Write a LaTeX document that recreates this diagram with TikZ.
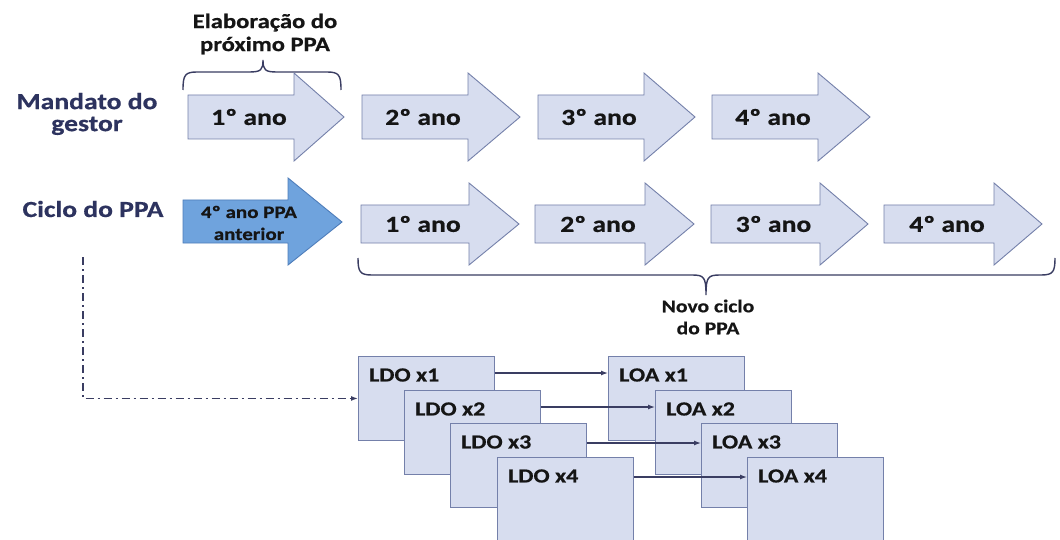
\documentclass[tikz,border=0pt]{standalone}
\usepackage{fontspec}
\setmainfont{Carlito}[FakeStretch=1.2,BoldFeatures={FakeBold=0.6}]
\usetikzlibrary{arrows.meta,calc}
\definecolor{lightfill}{HTML}{D7DDEF}
\definecolor{lightdraw}{HTML}{7480AA}
\definecolor{darkfill}{HTML}{6FA3DD}
\definecolor{darkdraw}{HTML}{4E7DBA}
\definecolor{navy}{HTML}{2D335F}
\definecolor{linecol}{HTML}{3A3D62}
\definecolor{txt}{HTML}{151515}
\newcommand{\blockarrow}[9]{%
  \draw[#1] (#2,#5-#6) -- (#3,#5-#6) -- (#3,#5-#7) -- (#4,#5) -- (#3,#5+#7) -- (#3,#5+#6) -- (#2,#5+#6) -- cycle;
  \node[arrowtext] (#8) at ({(#2+#3)/2+8},#5) {#9};}
\begin{document}
\begin{tikzpicture}[x=1pt,y=-1pt,
  lightarrow/.style={fill=lightfill,draw=lightdraw,line width=0.9pt,line join=miter},
  darkarrow/.style={fill=darkfill,draw=darkdraw,line width=0.9pt,line join=miter},
  arrowtext/.style={font=\fontsize{23}{26}\selectfont\bfseries,text=txt,inner sep=0pt},
  darktext/.style={font=\fontsize{17.5}{22}\selectfont\bfseries,text=txt,align=center,inner sep=0pt},
  rowlabel/.style={font=\fontsize{23}{22}\selectfont\bfseries,text=navy,align=center,inner sep=0pt},
  bracelabel/.style={font=\fontsize{18}{22}\selectfont\bfseries,text=txt,align=center,inner sep=0pt},
  elablabel/.style={font=\fontsize{20.5}{23}\selectfont\bfseries,text=txt,align=center,inner sep=0pt},
  bracestyle/.style={draw=linecol,line width=1.4pt},
  docbox/.style={fill=lightfill,draw=lightdraw,line width=0.9pt,minimum width=136pt,minimum height=84pt,inner sep=0pt,anchor=north west},
  boxlabel/.style={font=\fontsize{20}{22}\selectfont\bfseries,text=txt,inner sep=0pt,anchor=west},
  flow/.style={draw=linecol,line width=1.3pt,-{Latex[length=7pt,width=5pt]}},
  dashflow/.style={draw=linecol,line width=1.7pt,dash pattern=on 8pt off 4pt on 2pt off 4pt,-{Latex[length=7pt,width=5pt]}}]
\useasboundingbox[fill=white] (0,0) rectangle (1060,540);

% row labels
\node[rowlabel] (mandato) at (87,114) {Mandato do\\gestor};
\node[rowlabel] (ciclo) at (93,209) {Ciclo do PPA};

% brace top
\draw[bracestyle] (183,90) .. controls (183,75) and (185,72) .. (197,72) -- (249,72)
  .. controls (261,72) and (263,70) .. (263,60)
  .. controls (263,70) and (265,72) .. (277,72) -- (327,72)
  .. controls (339,72) and (341,75) .. (341,90);
\node[elablabel] (elab) at (265,34) {Elaboração do\\próximo PPA};

% row 1 arrows
\blockarrow{lightarrow}{188}{294}{344}{117}{22}{44}{m1}{1º ano}
\blockarrow{lightarrow}{362}{468}{520}{117}{22}{44}{m2}{2º ano}
\blockarrow{lightarrow}{538}{644}{695}{117}{22}{44}{m3}{3º ano}
\blockarrow{lightarrow}{712}{818}{870}{117}{22}{44}{m4}{4º ano}

% row 2 arrows
\draw[darkarrow] (183,200) -- (288,200) -- (288,178) -- (342,222) -- (288,265) -- (288,243) -- (183,243) -- cycle;
\node[darktext] (prev) at (249,223) {4º ano PPA\\anterior};
\blockarrow{lightarrow}{361}{469}{519}{224}{19}{41}{c1}{1º ano}
\blockarrow{lightarrow}{535}{645}{694}{224}{19}{41}{c2}{2º ano}
\blockarrow{lightarrow}{711}{820}{868}{224}{19}{41}{c3}{3º ano}
\blockarrow{lightarrow}{884}{994}{1042}{224}{19}{41}{c4}{4º ano}

% brace bottom
\draw[bracestyle] (358,258) .. controls (358,272) and (360,275) .. (372,275) -- (692,275)
  .. controls (704,275) and (706,277) .. (706,295)
  .. controls (706,277) and (708,275) .. (720,275) -- (1041,275)
  .. controls (1053,275) and (1055,272) .. (1055,258);
\node[bracelabel] (novo) at (708,317) {Novo ciclo\\do PPA};

% LDO boxes
\node[docbox] (ldo1) at (358,356) {};
\node[boxlabel] (ldo1t) at ([xshift=11pt,yshift=-19pt]ldo1.north west) {LDO x1};
\node[docbox] (ldo2) at (404,390) {};
\node[boxlabel] (ldo2t) at ([xshift=11pt,yshift=-19pt]ldo2.north west) {LDO x2};
\node[docbox] (ldo3) at (450,423) {};
\node[boxlabel] (ldo3t) at ([xshift=11pt,yshift=-19pt]ldo3.north west) {LDO x3};
\node[docbox] (ldo4) at (497,457) {};
\node[boxlabel] (ldo4t) at ([xshift=11pt,yshift=-19pt]ldo4.north west) {LDO x4};

% LOA boxes
\node[docbox] (loa1) at (608,356) {};
\node[boxlabel] (loa1t) at ([xshift=11pt,yshift=-19pt]loa1.north west) {LOA x1};
\node[docbox] (loa2) at (655,390) {};
\node[boxlabel] (loa2t) at ([xshift=11pt,yshift=-19pt]loa2.north west) {LOA x2};
\node[docbox] (loa3) at (701,423) {};
\node[boxlabel] (loa3t) at ([xshift=11pt,yshift=-19pt]loa3.north west) {LOA x3};
\node[docbox] (loa4) at (747,457) {};
\node[boxlabel] (loa4t) at ([xshift=11pt,yshift=-19pt]loa4.north west) {LOA x4};

% connectors
\draw[flow] ([yshift=-17pt]ldo1.north east) -- ([yshift=-17pt]loa1.north west);
\draw[flow] ([yshift=-17pt]ldo2.north east) -- ([yshift=-17pt]loa2.north west);
\draw[flow] ([yshift=-20pt]ldo3.north east) -- ([yshift=-20pt]loa3.north west);
\draw[flow] ([yshift=-20pt]ldo4.north east) -- ([yshift=-20pt]loa4.north west);

\coordinate (dstart) at (83,257);
\draw[dashflow] (dstart) |- (ldo1.west);
\end{tikzpicture}
\end{document}
